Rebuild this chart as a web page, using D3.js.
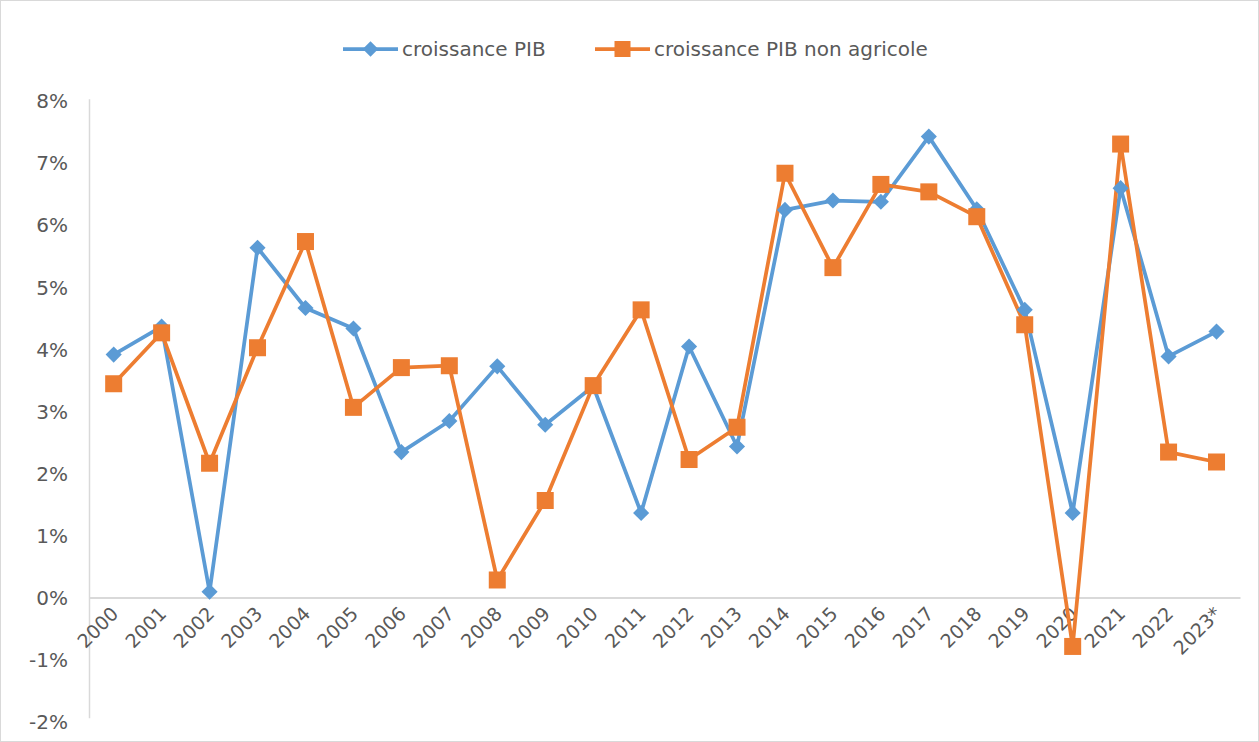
<!DOCTYPE html>
<html><head><meta charset="utf-8">
<script src="https://cdn.jsdelivr.net/npm/d3@7"></script>
<style>body{margin:0;background:#fff}svg{display:block}text{font-family:"DejaVu Sans",sans-serif;fill:#595959}</style>
</head><body><svg id="c" width="1259" height="742"></svg>
<script>
const years = ["2000","2001","2002","2003","2004","2005","2006","2007","2008","2009","2010","2011","2012","2013","2014","2015","2016","2017","2018","2019","2020","2021","2022","2023*"];
const pib = [3.92,4.37,0.10,5.64,4.67,4.34,2.35,2.85,3.73,2.79,3.41,1.37,4.05,2.44,6.25,6.40,6.38,7.43,6.26,4.64,1.37,6.60,3.89,4.29];
const pibNonAgri = [3.45,4.27,2.17,4.03,5.74,3.07,3.71,3.74,0.29,1.57,3.42,4.64,2.23,2.75,6.84,5.32,6.66,6.54,6.14,4.40,-0.78,7.31,2.35,2.19];
const yTicks = [-2,-1,0,1,2,3,4,5,6,7,8];
const seriesNames = ["croissance PIB","croissance PIB non agricole"];
const colors = ["#5B9BD5","#ED7D31"];

const svg = d3.select("#c");
svg.append("rect").attr("x",0.5).attr("y",0.5).attr("width",1258).attr("height",741).attr("fill","none").attr("stroke","#d9d9d9");

const x = d3.scaleBand().domain(years).range([89.7,1240.5]);
const y = d3.scaleLinear().domain([-2,8]).range([722.2,101.2]);
const cx = d => x(d)+x.bandwidth()/2;

// axis lines
svg.append("line").attr("x1",89.5).attr("x2",89.5).attr("y1",y(8)-2).attr("y2",y(-2)-4).attr("stroke","#d9d9d9").attr("stroke-width",1.5);
svg.append("line").attr("x1",89).attr("x2",1240.5).attr("y1",y(0)).attr("y2",y(0)).attr("stroke","#d9d9d9").attr("stroke-width",2);

// y tick labels
svg.append("g").selectAll("text").data(yTicks).join("text")
  .attr("x",68).attr("y",d=>y(d)).attr("dy","0.35em").attr("text-anchor","end")
  .attr("font-size",20).text(d=>d+"%");

// x labels
svg.append("g").selectAll("text").data(years).join("text")
  .attr("transform",d=>`translate(${cx(d)+6},${y(0)+17}) rotate(-45)`)
  .attr("text-anchor","end").attr("font-size",19).text(d=>d);

const line = d3.line().x((d,i)=>cx(years[i])).y(d=>y(d));
const data = [pib,pibNonAgri];
data.forEach((s,k)=>{
  svg.append("path").datum(s).attr("d",line).attr("fill","none").attr("stroke",colors[k]).attr("stroke-width",3.75).attr("stroke-linejoin","round");
});
// markers
svg.append("g").selectAll("path").data(pib).join("path")
  .attr("transform",(d,i)=>`translate(${cx(years[i])},${y(d)}) rotate(45)`)
  .attr("d","M-5.7,-5.7H5.7V5.7H-5.7Z").attr("fill",colors[0]);
svg.append("g").selectAll("rect").data(pibNonAgri).join("rect")
  .attr("x",(d,i)=>cx(years[i])-8.5).attr("y",d=>y(d)-8.5).attr("width",17).attr("height",17).attr("fill",colors[1]);

// legend
const lg = svg.append("g");
const lx = [343,595];
seriesNames.forEach((n,k)=>{
  lg.append("line").attr("x1",lx[k]).attr("x2",lx[k]+55).attr("y1",49).attr("y2",49).attr("stroke",colors[k]).attr("stroke-width",3.75);
  if(k===0) lg.append("path").attr("transform",`translate(${lx[k]+27.5},49) rotate(45)`).attr("d","M-5.5,-5.5H5.5V5.5H-5.5Z").attr("fill",colors[0]);
  else lg.append("rect").attr("x",lx[k]+27.5-8).attr("y",41).attr("width",16).attr("height",16).attr("fill",colors[1]);
  lg.append("text").attr("x",lx[k]+59).attr("y",49).attr("dy","0.35em").attr("font-size",20).text(n);
});
</script></body></html>
